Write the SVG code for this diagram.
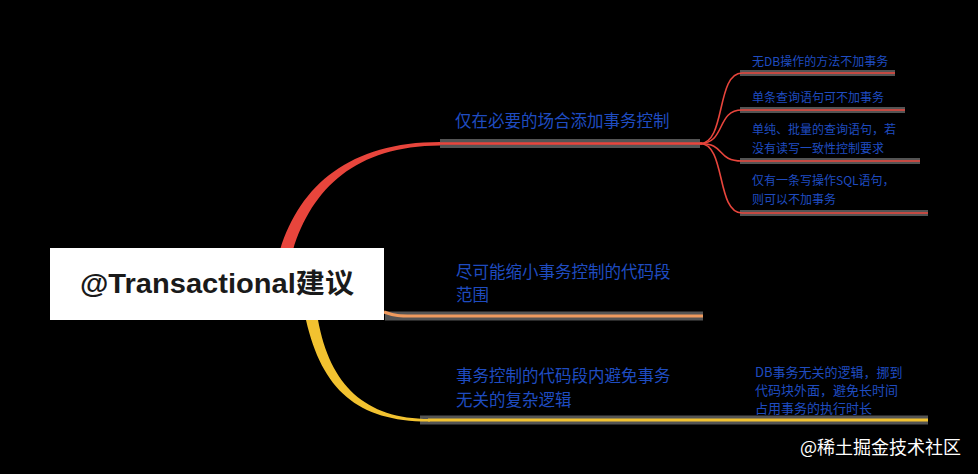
<svg xmlns="http://www.w3.org/2000/svg" width="978" height="474" viewBox="0 0 978 474">
<style>
.bg{fill:#000}
.under{fill:none;stroke:#8c8c8c;stroke-width:9;stroke-linecap:butt;opacity:0.6}
.red{fill:none;stroke:#e8453c;stroke-width:2.5}
.redthin{fill:none;stroke:#e8453c;stroke-width:1.6}
.org{fill:none;stroke:#ef9a5e;stroke-width:3}
.yel{fill:none;stroke:#f2c230;stroke-width:3}
.t1{font-family:"Noto Sans CJK SC","Liberation Sans",sans-serif;font-size:16.5px;fill:#1f4cc0}
.t2{font-family:"Noto Sans CJK SC","Liberation Sans",sans-serif;font-size:12px;fill:#1f4cc0}
.t3{font-family:"Noto Sans CJK SC","Liberation Sans",sans-serif;font-size:13px;fill:#1f4cc0}
.root{font-family:"Liberation Sans","Noto Sans CJK SC",sans-serif;font-size:27px;font-weight:bold;fill:#1a1a1a}
.wm{font-family:"Noto Sans CJK SC","Liberation Sans",sans-serif;font-size:18px;fill:#ffffff}
</style>
<rect class="bg" x="0" y="0" width="978" height="474"/>
<g id="connectors">
  <path class="under" d="M440 143.5 H700"/>
  <path class="under" d="M385 316 H703"/>
  <path class="under" d="M420 420 H928"/>
  <path class="under" d="M740 73 H895" style="stroke-width:6"/>
  <path class="under" d="M740 110 H905" style="stroke-width:6"/>
  <path class="under" d="M740 161 H920" style="stroke-width:6"/>
  <path class="under" d="M740 213 H928" style="stroke-width:6"/>
  <path d="M280 250 C300 185 350 142 440 142 L440 145.5 C356 146 312 188 293 250 Z" fill="#e8453c"/>
  <path class="red" d="M438 143.5 H702"/>
  <path class="redthin" d="M700 143.5 C726 143.5 716 73 742 73 H895"/>
  <path class="redthin" d="M700 143.5 C726 143.5 716 110 742 110 H905"/>
  <path class="redthin" d="M700 143.5 C726 143.5 716 161 742 161 H920"/>
  <path class="redthin" d="M700 143.5 C726 143.5 716 213 742 213 H928"/>
  <path class="org" d="M384 312 C395 316 400 316 412 316 H703"/>
  <path d="M318 320 C330 385 365 419 430 419 L430 421.5 C358 422 322 390 306 320 Z" fill="#f2c230"/>
  <path class="yel" d="M428 420 H928"/>
</g>
<g id="root">
  <rect x="50" y="248" width="334" height="72" fill="#ffffff"/>
  <text class="root" x="217" y="293" text-anchor="middle" textLength="274" lengthAdjust="spacingAndGlyphs">@Transactional建议</text>
</g>
<g id="branch1">
  <text class="t1" x="455" y="127">仅在必要的场合添加事务控制</text>
</g>
<g id="b1c1">
  <text class="t2" x="752" y="66">无DB操作的方法不加事务</text>
</g>
<g id="b1c2">
  <text class="t2" x="752" y="102">单条查询语句可不加事务</text>
</g>
<g id="b1c3">
  <text class="t2" x="752" y="134">单纯、批量的查询语句，若</text>
  <text class="t2" x="752" y="153">没有读写一致性控制要求</text>
</g>
<g id="b1c4">
  <text class="t2" x="752" y="185">仅有一条写操作SQL语句，</text>
  <text class="t2" x="752" y="204">则可以不加事务</text>
</g>
<g id="branch2">
  <text class="t1" x="456" y="278">尽可能缩小事务控制的代码段</text>
  <text class="t1" x="456" y="301">范围</text>
</g>
<g id="branch3">
  <text class="t1" x="456" y="382">事务控制的代码段内避免事务</text>
  <text class="t1" x="456" y="406">无关的复杂逻辑</text>
</g>
<g id="b3c1">
  <text class="t3" x="755" y="377">DB事务无关的逻辑，挪到</text>
  <text class="t3" x="755" y="395">代码块外面，避免长时间</text>
  <text class="t3" x="755" y="413">占用事务的执行时长</text>
</g>
<g id="watermark">
  <text class="wm" x="800" y="454">@稀土掘金技术社区</text>
</g>
</svg>
